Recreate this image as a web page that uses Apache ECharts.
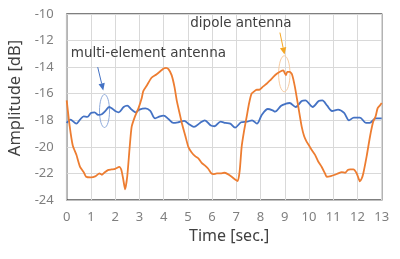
<!DOCTYPE html>
<html><head><meta charset="utf-8">
<script src="https://cdn.jsdelivr.net/npm/echarts@6/dist/echarts.min.js"></script>
<style>html,body{margin:0;padding:0;background:#fff}#c{width:400px;height:259px}</style>
</head><body><div id="c"></div>
<script>
const xTicks = [0,1,2,3,4,5,6,7,8,9,10,11,12,13];
const yTicks = [-24,-22,-20,-18,-16,-14,-12,-10];

const dipoleT = [0,0.12,0.25,0.4,0.55,0.7,0.8,1.0,1.2,1.35,1.45,1.55,1.7,1.85,2.0,2.17,2.25,2.33,2.41,2.5,2.6,2.68,2.8,2.96,3.1,3.16,3.3,3.5,3.7,3.9,4.0,4.1,4.2,4.33,4.45,4.54,4.65,4.75,4.9,5.02,5.15,5.3,5.45,5.57,5.7,5.84,5.95,6.05,6.2,6.35,6.5,6.65,6.81,6.95,7.06,7.14,7.22,7.32,7.43,7.53,7.63,7.72,7.84,7.95,8.11,8.25,8.39,8.52,8.67,8.8,8.94,9.0,9.05,9.1,9.2,9.3,9.42,9.56,9.7,9.8,9.9,10.0,10.1,10.25,10.38,10.52,10.66,10.73,10.9,11.07,11.2,11.35,11.49,11.6,11.7,11.83,11.97,12.05,12.1,12.17,12.24,12.38,12.52,12.65,12.75,12.83,12.92,13.0];
const dipoleV = [-16.5,-18.4,-19.9,-20.6,-21.5,-21.9,-22.25,-22.3,-22.2,-22.0,-22.1,-21.95,-21.75,-21.7,-21.65,-21.5,-21.7,-22.4,-23.2,-22.2,-20.0,-18.5,-17.8,-17.1,-16.3,-15.8,-15.4,-14.8,-14.55,-14.25,-14.1,-14.05,-14.15,-14.6,-15.5,-16.5,-17.4,-18.2,-19.2,-20.0,-20.4,-20.7,-20.9,-21.2,-21.4,-21.65,-21.95,-22.05,-22.0,-22.0,-21.95,-22.05,-22.25,-22.45,-22.57,-21.8,-20.0,-18.8,-17.7,-16.7,-16.0,-15.85,-15.7,-15.7,-15.45,-15.25,-15.0,-14.75,-14.5,-14.35,-14.25,-14.45,-14.6,-14.35,-14.35,-14.55,-15.5,-17.0,-18.5,-19.2,-19.6,-19.9,-20.2,-20.6,-21.1,-21.5,-22.0,-22.25,-22.2,-22.1,-22.0,-21.9,-21.95,-21.75,-21.7,-21.7,-22.0,-22.4,-22.6,-22.4,-22.0,-20.7,-19.2,-18.1,-17.7,-17.1,-16.9,-16.7];

const multiT = [0,0.15,0.4,0.55,0.7,0.85,1.0,1.15,1.3,1.45,1.6,1.75,1.9,2.0,2.15,2.35,2.5,2.65,2.75,2.85,3.0,3.25,3.45,3.65,3.85,4.0,4.2,4.4,4.6,4.85,5.05,5.25,5.5,5.7,5.95,6.1,6.35,6.55,6.75,6.95,7.2,7.45,7.65,7.85,8.05,8.3,8.5,8.6,8.85,9.05,9.2,9.45,9.7,9.85,10.15,10.4,10.55,10.75,10.95,11.2,11.45,11.65,11.85,12.1,12.35,12.5,12.75,13.0];
const multiV = [-18.2,-17.95,-18.25,-17.95,-17.7,-17.75,-17.45,-17.4,-17.6,-17.55,-17.3,-17.0,-17.15,-17.3,-17.4,-17.0,-16.9,-17.15,-17.3,-17.4,-17.2,-17.1,-17.3,-17.85,-17.7,-17.65,-17.9,-18.2,-18.15,-18.05,-18.3,-18.5,-18.2,-18.0,-18.4,-18.45,-18.1,-18.2,-18.25,-18.55,-18.15,-18.1,-18.0,-18.25,-17.6,-17.15,-17.25,-17.35,-16.9,-16.75,-16.7,-17.0,-16.55,-16.5,-17.0,-16.55,-16.5,-16.9,-17.3,-17.2,-17.45,-18.0,-17.8,-17.8,-18.2,-18.2,-17.85,-17.85];

const labelDipole = 'dipole antenna';
const labelMulti = 'multi-element antenna';

const FONT = '"Noto Sans","DejaVu Sans",sans-serif';
const AFONT = '"DejaVu Sans",sans-serif';
const chart = echarts.init(document.getElementById('c'), null, {renderer:'canvas'});
const option = {
  animation:false,
  backgroundColor:'#fff',
  grid:{left:66.7, right:18.3, top:14, bottom:59, containLabel:false, outerBoundsMode:'none', show:true, borderColor:'#000', borderWidth:1.2, backgroundColor:'transparent'},
  xAxis:{type:'value', min:xTicks[0], max:xTicks[xTicks.length-1], interval:1,
    name:'Time [sec.]', nameLocation:'middle', nameGap:28,
    nameTextStyle:{fontFamily:FONT, fontSize:16, color:'#404040', padding:[0,0,0,10]},
    axisLine:{show:true, onZero:false, lineStyle:{color:'#bfbfbf', width:1.2}},
    axisTick:{show:false},
    axisLabel:{fontFamily:FONT, fontSize:13, color:'#7f7f7f', margin:11},
    splitLine:{show:true, lineStyle:{color:'#d9d9d9', width:1}}},
  yAxis:{type:'value', min:yTicks[0], max:yTicks[yTicks.length-1], interval:2,
    name:'Amplitude [dB]', nameLocation:'middle', nameGap:40,
    nameTextStyle:{fontFamily:FONT, fontSize:16.5, color:'#404040', padding:[0,0,0,18]},
    axisLine:{show:true, lineStyle:{color:'#bfbfbf', width:1.2}},
    axisTick:{show:false},
    axisLabel:{fontFamily:FONT, fontSize:13, color:'#7f7f7f', margin:13},
    splitLine:{show:true, lineStyle:{color:'#d9d9d9', width:1}}},
  series:[
    {name:labelMulti, type:'line', showSymbol:false, smooth:0.3,
     data:multiT.map((t,i)=>[t,multiV[i]]), lineStyle:{color:'#4472C4', width:1.8}, itemStyle:{color:'#4472C4'}},
    {name:labelDipole, type:'line', showSymbol:false, smooth:0.2,
     data:dipoleT.map((t,i)=>[t,dipoleV[i]]), lineStyle:{color:'#ED7D31', width:1.8}, itemStyle:{color:'#ED7D31'}}
  ]
};
chart.setOption(option);

function px(t,v){return chart.convertToPixel({gridIndex:0},[t,v]);}
const eB = px(1.56,-17.3), eO = px(8.98,-14.5);
const aB1 = px(1.28,-14.0), aB2 = px(1.51,-15.75);
const aO1 = px(8.8,-11.4), aO2 = px(8.99,-13.05);
const tM = px(0.17,-12.95), tD = px(5.1,-10.7);
function arrow(p1,p2,color){
  const ang = Math.atan2(p2[1]-p1[1], p2[0]-p1[0]);
  const L=7, W=3.2;
  const bx=p2[0]-L*Math.cos(ang), by=p2[1]-L*Math.sin(ang);
  return [
    {type:'line', shape:{x1:p1[0],y1:p1[1],x2:bx,y2:by}, style:{stroke:color, lineWidth:1}},
    {type:'polygon', shape:{points:[[p2[0],p2[1]],[bx+W*Math.sin(ang),by-W*Math.cos(ang)],[bx-W*Math.sin(ang),by+W*Math.cos(ang)]]}, style:{fill:color}}
  ];
}
chart.setOption({graphic:[
  {type:'ellipse', shape:{cx:eB[0],cy:eB[1],rx:5,ry:16.5}, style:{fill:'none', stroke:'#8eaadb', lineWidth:1}},
  {type:'ellipse', shape:{cx:eO[0],cy:eO[1],rx:5.7,ry:18}, style:{fill:'none', stroke:'#f8cb9f', lineWidth:1}},
  ...arrow(aB1,aB2,'#4472C4'),
  ...arrow(aO1,aO2,'#f5a623'),
  {type:'text', x:tM[0], y:tM[1], style:{text:labelMulti, font:'13.5px '+AFONT, fill:'#404040', textVerticalAlign:'middle'}},
  {type:'text', x:tD[0], y:tD[1], style:{text:labelDipole, font:'13.5px '+AFONT, fill:'#404040', textVerticalAlign:'middle'}}
]});
</script></body></html>
